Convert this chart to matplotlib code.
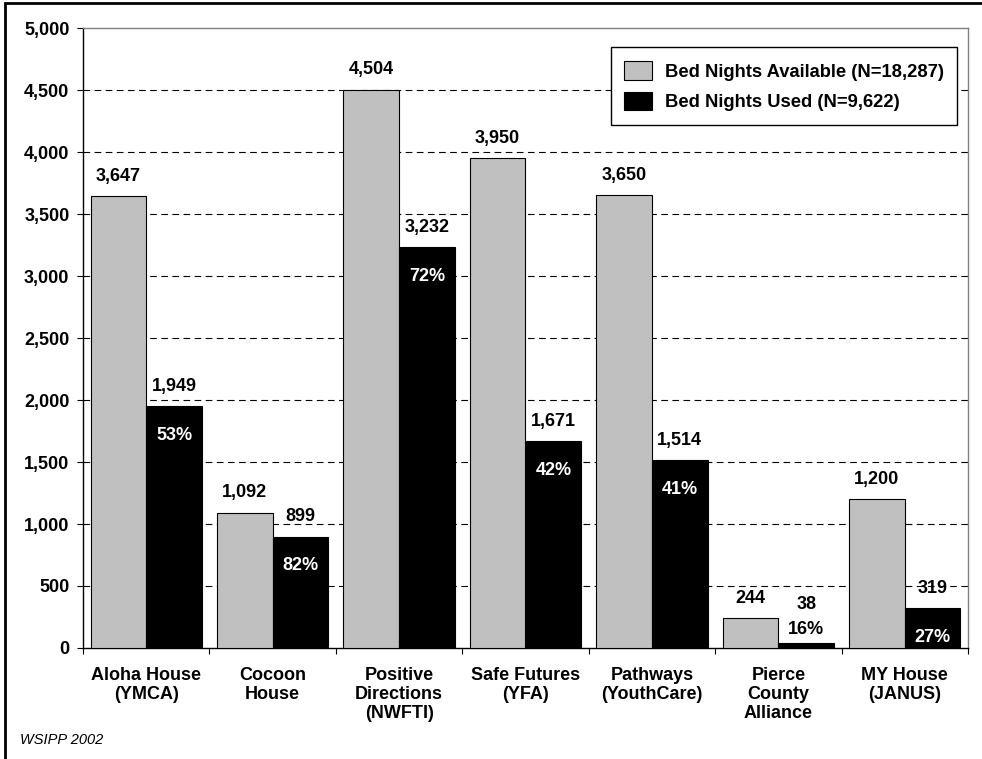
import matplotlib
matplotlib.use("Agg")
import matplotlib.pyplot as plt
import matplotlib.patches as mpatches
import numpy as np

categories = ["Aloha House\n(YMCA)", "Cocoon\nHouse", "Positive\nDirections\n(NWFTI)",
              "Safe Futures\n(YFA)", "Pathways\n(YouthCare)", "Pierce\nCounty\nAlliance",
              "MY House\n(JANUS)"]
available = [3647, 1092, 4504, 3950, 3650, 244, 1200]
used = [1949, 899, 3232, 1671, 1514, 38, 319]
pct_used = [53, 82, 72, 42, 41, 16, 27]
legend_labels = ["Bed Nights Available (N=18,287)", "Bed Nights Used (N=9,622)"]
yticks = [0, 500, 1000, 1500, 2000, 2500, 3000, 3500, 4000, 4500, 5000]

plt.rcParams['font.family'] = ['Liberation Sans', 'DejaVu Sans']
plt.rcParams['font.weight'] = 'bold'

W, H = 982, 759
fig = plt.figure(figsize=(W / 100, H / 100), dpi=100)
ax = fig.add_axes([83 / W, 1 - 648 / H, (968 - 83) / W, (648 - 28) / H])

x = np.arange(len(categories))
bw = 0.44
b1 = ax.bar(x - bw / 2, available, bw, color="#c0c0c0", edgecolor="black", linewidth=0.8, zorder=3,
            label=legend_labels[0])
b2 = ax.bar(x + bw / 2, used, bw, color="black", edgecolor="black", linewidth=0.8, zorder=3,
            label=legend_labels[1])

fs = 13
for xi, v in zip(x, available):
    ax.annotate(f"{v:,}", (xi - bw / 2, v), xytext=(0, 8), textcoords="offset points",
                ha="center", va="bottom", fontsize=fs, fontweight="bold", zorder=5)
for xi, v, p in zip(x, used, pct_used):
    if v < 200:
        ax.annotate(f"{p}%", (xi + bw / 2, v), xytext=(0, 4), textcoords="offset points",
                    ha="center", va="bottom", fontsize=fs, fontweight="bold", zorder=5)
        ax.annotate(f"{v:,}", (xi + bw / 2, v), xytext=(0, 22), textcoords="offset points",
                    ha="center", va="bottom", fontsize=fs, fontweight="bold", zorder=5)
    else:
        ax.annotate(f"{v:,}", (xi + bw / 2, v), xytext=(0, 8), textcoords="offset points",
                    ha="center", va="bottom", fontsize=fs, fontweight="bold", zorder=5)
        ax.annotate(f"{p}%", (xi + bw / 2, v), xytext=(0, -15), textcoords="offset points",
                    ha="center", va="top", fontsize=fs, fontweight="bold", color="white", zorder=5)

ax.set_xlim(-0.5, len(categories) - 0.5)
ax.set_ylim(0, 5000)
ax.set_yticks(yticks)
ax.set_yticklabels([f"{t:,}" for t in yticks], fontsize=fs, fontweight="bold")
ax.tick_params(axis="y", length=4.3, width=0.8, pad=5.5, direction="out")

ax.set_xticks(np.arange(-0.5, len(categories), 1.0))
ax.set_xticklabels([])
ax.tick_params(axis="x", which="major", length=4.3, width=0.8, direction="out")
ax.set_xticks(x, minor=True)
ax.set_xticklabels(categories, minor=True, fontsize=fs, fontweight="bold", linespacing=1.12)
ax.tick_params(axis="x", which="minor", length=0, pad=14)

for t in yticks[1:-1]:
    ax.axhline(t, color="black", linewidth=0.8, linestyle=(0, (6, 4)), zorder=1)

ax.spines["left"].set_color("black")
ax.spines["bottom"].set_color("black")
ax.spines["left"].set_linewidth(1.0)
ax.spines["bottom"].set_linewidth(1.0)
ax.spines["top"].set_color("#808080")
ax.spines["right"].set_color("#808080")
ax.spines["top"].set_linewidth(1.0)
ax.spines["right"].set_linewidth(1.0)

lfs = 13.2
leg = ax.legend(loc="upper right", bbox_to_anchor=(0.988, 0.969), borderaxespad=0,
                frameon=True, fancybox=False, framealpha=1, edgecolor="black",
                handlelength=1.5, handleheight=1.2, handletextpad=0.7, labelspacing=0.6,
                borderpad=0.75, prop={"weight": "bold", "size": lfs})
leg.get_frame().set_linewidth(1.0)
leg.set_zorder(6)

fig.text(20 / W, 1 - 740 / H, "WSIPP 2002", fontsize=10.5, fontstyle="italic", fontweight="normal",
         ha="left", va="center")

border = mpatches.Rectangle((5 / W, -0.05), 1.1, 1 - 3 / H + 0.05, transform=fig.transFigure,
                            fill=False, edgecolor="black", linewidth=2, clip_on=False)
fig.patches.append(border)

fig.savefig("out.png", dpi=100)
